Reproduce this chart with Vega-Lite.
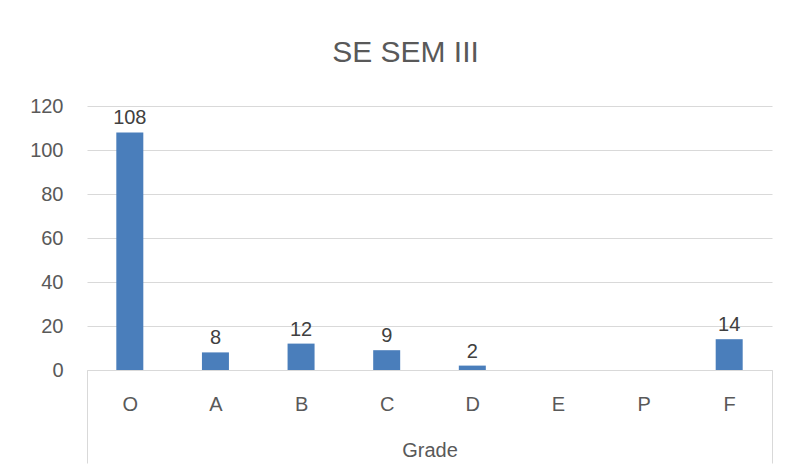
{
  "$schema": "https://vega.github.io/schema/vega-lite/v6.json",
  "width": 685,
  "height": 264,
  "autosize": {"type": "none"},
  "padding": {"left": 87, "top": 106, "right": 17, "bottom": 104},
  "background": "white",
  "title": {
    "text": "SE SEM III",
    "fontSize": 30,
    "font": "Liberation Sans",
    "fontWeight": "normal",
    "color": "#595959",
    "anchor": "middle",
    "baseline": "alphabetic",
    "dx": -24,
    "offset": 4
  },
  "data": {
    "values": [
      {"Grade": "O", "Count": 108},
      {"Grade": "A", "Count": 8},
      {"Grade": "B", "Count": 12},
      {"Grade": "C", "Count": 9},
      {"Grade": "D", "Count": 2},
      {"Grade": "E", "Count": null},
      {"Grade": "P", "Count": null},
      {"Grade": "F", "Count": 14}
    ]
  },
  "encoding": {
    "x": {
      "field": "Grade",
      "type": "nominal",
      "sort": null,
      "scale": {"domain": ["O", "A", "B", "C", "D", "E", "P", "F"], "paddingInner": 0, "paddingOuter": 0},
      "axis": {
        "title": "Grade",
        "labelAngle": 0,
        "labelFont": "Liberation Sans",
        "labelFontSize": 20,
        "labelColor": "#595959",
        "labelBaseline": "alphabetic",
        "labelPadding": -53,
        "domainColor": "#d9d9d9",
        "domainWidth": 1,
        "ticks": true,
        "tickBand": "extent",
        "tickSize": 93,
        "tickColor": "#d9d9d9",
        "tickWidth": 1,
        "tickOpacity": {"condition": {"test": "datum.value == 'F' || datum.value == null", "value": 1}, "value": 0},
        "titleFont": "Liberation Sans",
        "titleFontSize": 20,
        "titleFontWeight": "normal",
        "titleColor": "#595959",
        "titleBaseline": "alphabetic",
        "titlePadding": -7,
        "grid": false
      }
    },
    "y": {
      "field": "Count",
      "type": "quantitative",
      "scale": {"domain": [0, 120]},
      "axis": {
        "title": null,
        "values": [0, 20, 40, 60, 80, 100, 120],
        "labelFont": "Liberation Sans",
        "labelFontSize": 20,
        "labelColor": "#595959",
        "labelPadding": 24,
        "domain": false,
        "ticks": false,
        "grid": true,
        "gridColor": "#d9d9d9",
        "gridWidth": 1
      }
    }
  },
  "layer": [
    {"mark": {"type": "bar", "size": 27, "color": "#4a7ebb"}},
    {
      "mark": {"type": "text", "baseline": "alphabetic", "dy": -8, "font": "Liberation Sans", "fontSize": 20, "color": "#404040"},
      "encoding": {"text": {"field": "Count", "type": "quantitative"}}
    }
  ],
  "config": {"view": {"stroke": null}}
}
